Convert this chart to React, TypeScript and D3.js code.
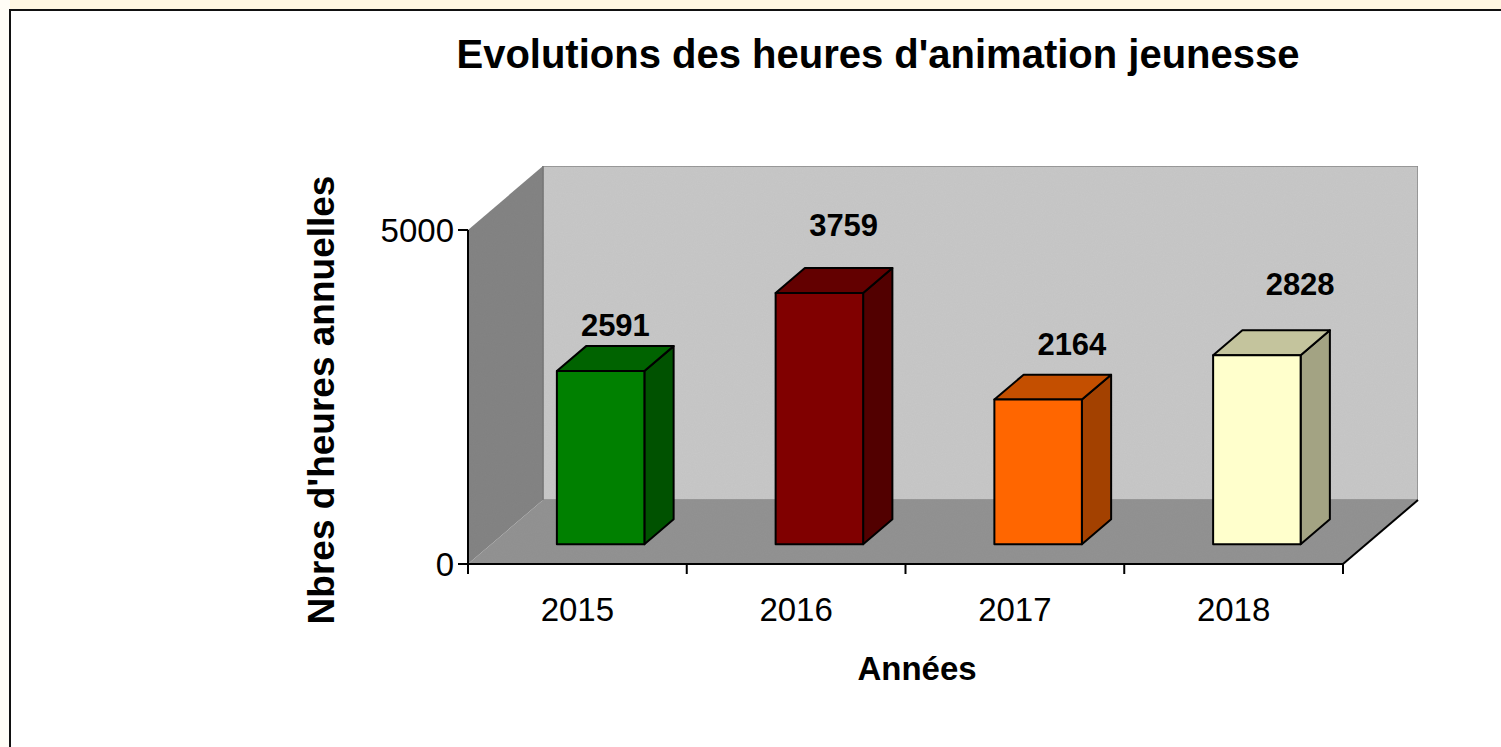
import React from "react";
import * as d3 from "d3";

const years = ["2015", "2016", "2017", "2018"];
const hours = [2591, 3759, 2164, 2828];
const barColors = ["#008000", "#800000", "#ff6600", "#ffffcc"];
const yTicks = [0, 5000];

const W = 1501;
const H = 747;
const FONT = "'Liberation Sans', Arial, Helvetica, sans-serif";

export default function App() {
  const x = d3.scaleBand<string>().domain(years).range([468, 1343]).paddingInner(0).paddingOuter(0);
  const y = d3.scaleLinear().domain([0, 5000]).range([564, 230]);
  const DX = 75;
  const DY = -64;
  const z0 = 0.31;
  const z1 = 0.7;
  const barW = x.bandwidth() * 0.4;

  const y0 = y(0);
  const yTop = y(5000);
  const x0 = x.range()[0];
  const x1 = x.range()[1];

  const pts = (a: [number, number][]) => a.map((p) => p.join(",")).join(" ");
  const darken = (c: string, k: number) => {
    const col = d3.rgb(c);
    return d3.rgb(col.r * k, col.g * k, col.b * k).formatHex();
  };

  return (
    <div style={{ position: "absolute", left: 0, top: 0, width: W, height: H, overflow: "hidden" }}>
      <svg width={W} height={H} style={{ display: "block" }}>
        <defs>
          <filter id="grain" x="0" y="0" width="100%" height="100%">
            <feTurbulence type="fractalNoise" baseFrequency="0.9" numOctaves="2" seed="3" result="n" />
            <feColorMatrix in="n" type="matrix" values="0 0 0 0 0  0 0 0 0 0  0 0 0 0 0  0 0 0 0.05 0" result="m" />
            <feComposite in="m" in2="SourceGraphic" operator="in" result="c" />
            <feMerge>
              <feMergeNode in="SourceGraphic" />
              <feMergeNode in="c" />
            </feMerge>
          </filter>
        </defs>
        <rect x={0} y={0} width={W} height={H} fill="#ffffff" />
        <rect x={0} y={0} width={W} height={10} fill="#fff7e2" />
        <rect x={0} y={0} width={10} height={H} fill="#fffdf6" />
        <path d={`M10,${H} V10 H${W}`} fill="none" stroke="#111" strokeWidth={2} />

        {/* Title */}
        <text x={878} y={68} textAnchor="middle" fontFamily={FONT} fontWeight="bold" fontSize={40} fill="#000">
          Evolutions des heures d'animation jeunesse
        </text>

        {/* Walls */}
        <g filter="url(#grain)">
          <rect x={x0 + DX} y={yTop + DY} width={x1 - x0} height={y0 - yTop} fill="#c8c8c8" stroke="#8a8a8a" strokeWidth={1.5} />
          <polygon points={pts([[x0, yTop], [x0 + DX, yTop + DY], [x0 + DX, y0 + DY], [x0, y0]])} fill="#848484" />
          <polygon points={pts([[x0, y0], [x0 + DX, y0 + DY], [x1 + DX, y0 + DY], [x1, y0]])} fill="#939393" />
        </g>
        <line x1={x0 + DX} y1={yTop + DY} x2={x0 + DX} y2={y0 + DY} stroke="#707070" strokeWidth={1} />

        {/* Axes */}
        <line x1={x0} y1={yTop} x2={x0} y2={y0} stroke="#000" strokeWidth={2} />
        <line x1={x0} y1={y0} x2={x1} y2={y0} stroke="#000" strokeWidth={2} />
        <line x1={x1} y1={y0} x2={x1 + DX} y2={y0 + DY} stroke="#000" strokeWidth={2} />
        {yTicks.map((t) => (
          <g key={t}>
            <line x1={x0 - 10} y1={y(t)} x2={x0} y2={y(t)} stroke="#000" strokeWidth={2} />
            <text x={x0 - 14} y={y(t) + 12} textAnchor="end" fontFamily={FONT} fontSize={33} fill="#000">
              {t}
            </text>
          </g>
        ))}
        {[...years.map((c) => x(c) as number), x1].map((v, i) => (
          <line key={i} x1={v} y1={y0} x2={v} y2={y0 + 10} stroke="#000" strokeWidth={2} />
        ))}
        {years.map((c) => (
          <text key={c} x={(x(c) as number) + x.bandwidth() / 2} y={621} textAnchor="middle" fontFamily={FONT} fontSize={33} fill="#000">
            {c}
          </text>
        ))}

        {/* Bars */}
        {years.map((c, i) => {
          const v = hours[i];
          const cx = (x(c) as number) + x.bandwidth() / 2;
          const fl = cx - barW / 2 + z0 * DX;
          const fr = fl + barW;
          const fb = y0 + z0 * DY;
          const ft = y(v) + z0 * DY;
          const ddx = (z1 - z0) * DX;
          const ddy = (z1 - z0) * DY;
          const col = barColors[i];
          return (
            <g key={c} stroke="#000" strokeWidth={2} strokeLinejoin="round">
              <polygon points={pts([[fr, fb], [fr + ddx, fb + ddy], [fr + ddx, ft + ddy], [fr, ft]])} fill={darken(col, 0.64)} />
              <polygon points={pts([[fl, ft], [fl + ddx, ft + ddy], [fr + ddx, ft + ddy], [fr, ft]])} fill={darken(col, 0.77)} />
              <rect x={fl} y={ft} width={barW} height={fb - ft} fill={col} />
            </g>
          );
        })}

        {/* Data labels */}
        {years.map((c, i) => {
          const v = hours[i];
          const cx = (x(c) as number) + x.bandwidth() / 2;
          const lx = cx + 38 + 9.5 * i;
          const ly = y0 - 22 - 1.19 * (y0 - y(v)) - 7.4 * i;
          return (
            <text key={c} x={lx} y={ly} textAnchor="middle" fontFamily={FONT} fontWeight="bold" fontSize={31} fill="#000">
              {v}
            </text>
          );
        })}

        {/* Axis titles */}
        <text x={917} y={680} textAnchor="middle" fontFamily={FONT} fontWeight="bold" fontSize={33} fill="#000">
          Années
        </text>
        <text
          transform={`translate(334,400) rotate(-90)`}
          textAnchor="middle"
          fontFamily={FONT}
          fontWeight="bold"
          fontSize={37}
          fill="#000"
        >
          Nbres d'heures annuelles
        </text>
      </svg>
    </div>
  );
}
